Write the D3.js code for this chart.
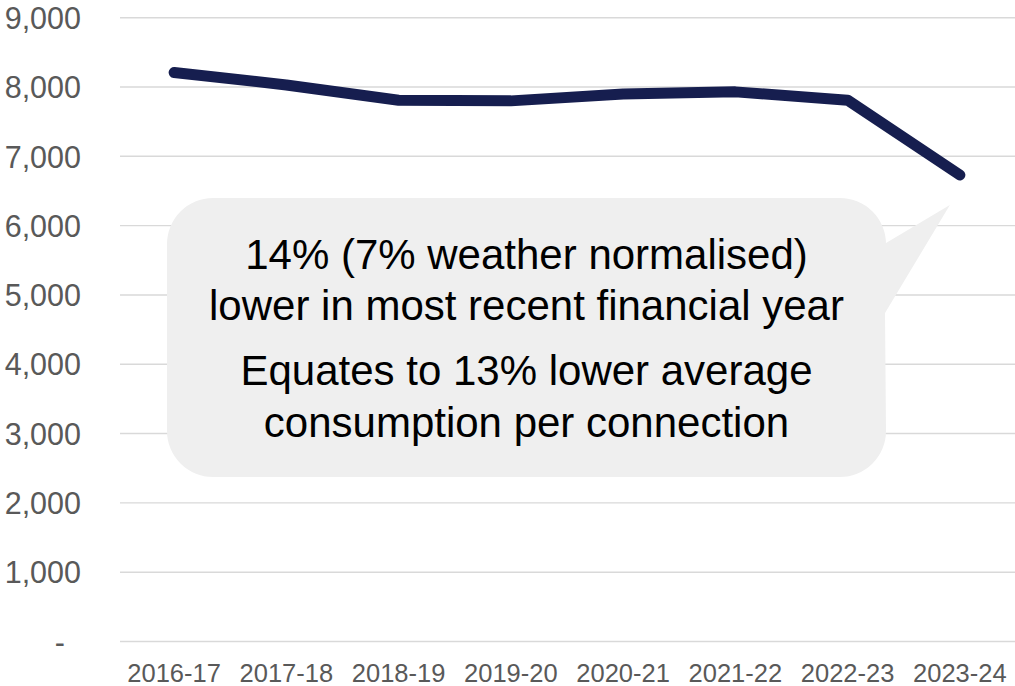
<!DOCTYPE html>
<html>
<head>
<meta charset="utf-8">
<script src="https://cdn.jsdelivr.net/npm/d3@7"></script>
<style>
  html, body { margin: 0; padding: 0; background: #ffffff; }
  svg { display: block; font-family: "Liberation Sans", Arial, sans-serif; }
</style>
</head>
<body>
<svg id="chart" width="1015" height="686"></svg>
<script>
// Financial years and consumption values
const years = ["2016-17", "2017-18", "2018-19", "2019-20", "2020-21", "2021-22", "2022-23", "2023-24"];
const consumption = [8210, 8030, 7810, 7800, 7900, 7930, 7810, 6730];
const yTicks = [0, 1000, 2000, 3000, 4000, 5000, 6000, 7000, 8000, 9000];
const calloutLines = [
  ["14% (7% weather normalised)", "lower in most recent financial year"],
  ["Equates to 13% lower average", "consumption per connection"]
];

const svg = d3.select("#chart");
const plotLeft = 118, plotRight = 1016, plotTop = 17.7, plotBottom = 641.5;

const x = d3.scaleBand().domain(years).range([plotLeft, plotRight]);
const y = d3.scaleLinear().domain([0, 9000]).range([plotBottom, plotTop]);

// Gridlines
svg.append("g")
  .selectAll("line")
  .data(yTicks)
  .join("line")
  .attr("x1", 120).attr("x2", 1015)
  .attr("y1", d => y(d)).attr("y2", d => y(d))
  .attr("stroke", "#d9d9d9")
  .attr("stroke-width", 1.4);

// Y axis labels
const fmt = d3.format(",");
const yAxis = d3.axisLeft(y).tickValues(yTicks).tickSize(0).tickPadding(0)
  .tickFormat(d => d === 0 ? "-" : fmt(d));
const gy = svg.append("g").attr("transform", "translate(81,0)").call(yAxis);
gy.select(".domain").remove();
gy.selectAll("text")
  .attr("fill", "#595959")
  .style("font-size", "30.5px")
  .style("font-family", "'Liberation Sans', Arial, sans-serif")
  .attr("dy", "0.35em")
  .attr("x", d => d === 0 ? -16 : 0);

// X axis labels
const xAxis = d3.axisBottom(x).tickSize(0).tickPadding(0);
const gx = svg.append("g").attr("transform", "translate(0,682)").call(xAxis);
gx.select(".domain").remove();
gx.selectAll("text")
  .attr("fill", "#595959")
  .attr("y", 0)
  .attr("dy", 0)
  .style("font-size", "25.5px")
  .style("font-family", "'Liberation Sans', Arial, sans-serif");

// Line series
const line = d3.line()
  .x((d, i) => x(years[i]) + x.bandwidth() / 2)
  .y(d => y(d));
svg.append("path")
  .datum(consumption)
  .attr("d", line)
  .attr("fill", "none")
  .attr("stroke", "#161e4f")
  .attr("stroke-width", 11)
  .attr("stroke-linecap", "round")
  .attr("stroke-linejoin", "round");

// Callout bubble: rounded rectangle with a wedge pointing at the last point
const bx0 = 167, by0 = 198, bx1 = 886, by1 = 477, r = 46;
const tipX = x(years[years.length - 1]) + x.bandwidth() / 2 - 10;
const tipY = 205;
const p = d3.path();
p.moveTo(bx0 + r, by0);
p.lineTo(bx1 - r, by0);
p.arcTo(bx1, by0, bx1, by0 + r, r);
p.lineTo(bx1, 243);
p.lineTo(tipX, tipY);
p.lineTo(bx1 - 1, 313);
p.lineTo(bx1, by1 - r);
p.arcTo(bx1, by1, bx1 - r, by1, r);
p.lineTo(bx0 + r, by1);
p.arcTo(bx0, by1, bx0, by1 - r, r);
p.lineTo(bx0, by0 + r);
p.arcTo(bx0, by0, bx0 + r, by0, r);
p.closePath();
svg.append("path").attr("d", p.toString()).attr("fill", "#efefef");

// Callout text
const cx = (bx0 + bx1) / 2;
const baselines = [[269, 320], [385, 437]];
calloutLines.forEach((para, i) => {
  para.forEach((t, j) => {
    svg.append("text")
      .attr("x", cx)
      .attr("y", baselines[i][j])
      .attr("text-anchor", "middle")
      .attr("fill", "#000000")
      .style("font-size", "42px")
      .text(t);
  });
});
</script>
</body>
</html>
